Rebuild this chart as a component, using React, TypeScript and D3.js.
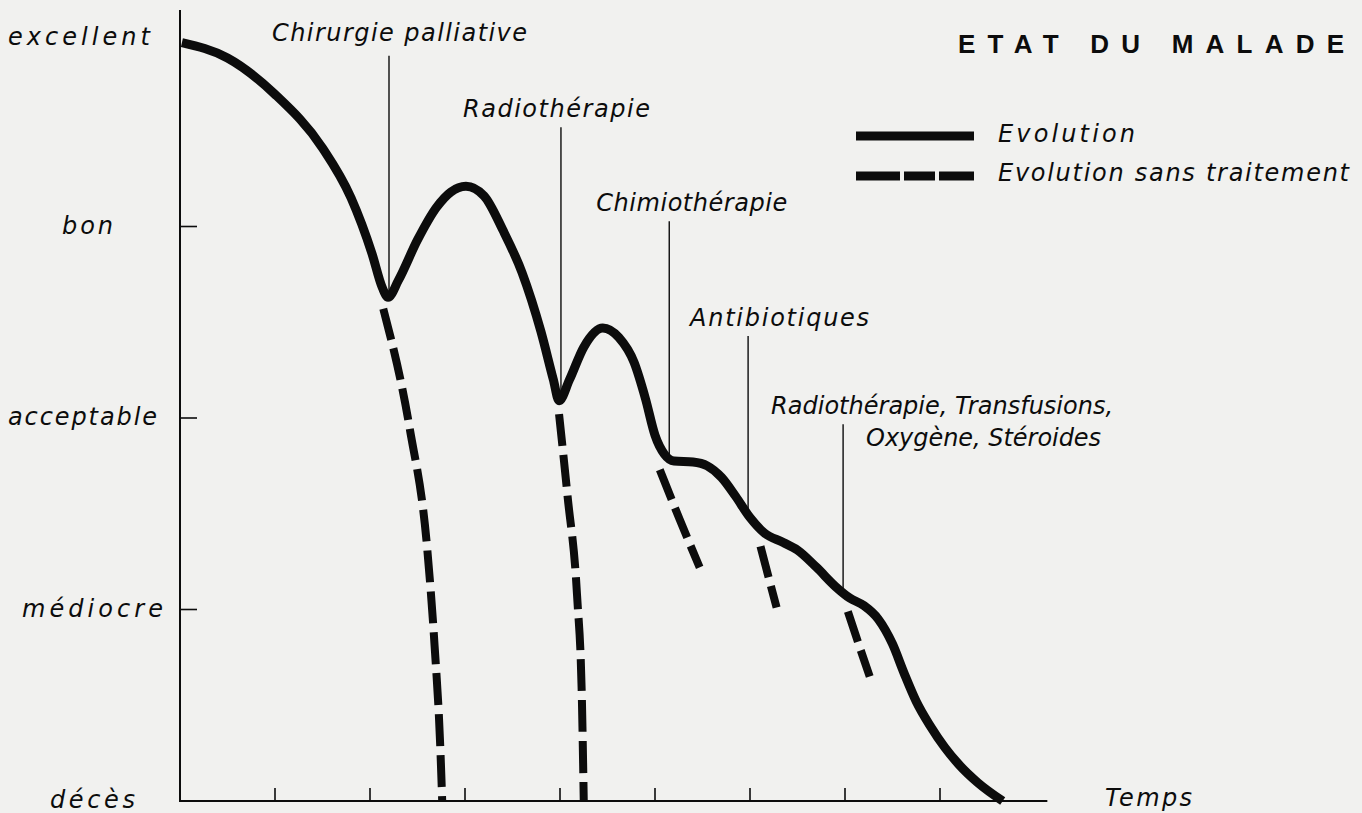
import React from 'react';
import * as d3 from 'd3';

// ---- Data ----
const levelLabels = ['décès', 'médiocre', 'acceptable', 'bon', 'excellent'];
const levelValues = [0, 1, 2, 3, 4];
const xTickValues = [1, 2, 3, 4, 5, 6, 7, 8];

// Evolution (with treatment): [time, state]
const evolution: [number, number][] = [
  [0.02, 3.96], [0.5, 3.88], [1.0, 3.69], [1.5, 3.41], [1.8, 3.15], [2.02, 2.86],
  [2.13, 2.68], [2.19, 2.63], [2.3, 2.72], [2.5, 2.93], [2.7, 3.1], [2.85, 3.18],
  [3.01, 3.21], [3.2, 3.16], [3.4, 2.98], [3.6, 2.76], [3.8, 2.45], [3.93, 2.2],
  [3.99, 2.09], [4.1, 2.2], [4.25, 2.37], [4.45, 2.47], [4.62, 2.42], [4.78, 2.29],
  [4.9, 2.1], [5.0, 1.91], [5.1, 1.81], [5.2, 1.775], [5.4, 1.77], [5.55, 1.75],
  [5.7, 1.69], [5.85, 1.59], [6.0, 1.48], [6.15, 1.4], [6.35, 1.35], [6.5, 1.31],
  [6.7, 1.22], [6.9, 1.12], [7.05, 1.06], [7.2, 1.02], [7.35, 0.95], [7.5, 0.82],
  [7.62, 0.67], [7.75, 0.52], [7.9, 0.39], [8.05, 0.28], [8.2, 0.19], [8.4, 0.095], [8.66, 0.0],
];

// Evolution sans traitement (one branch per treatment)
const sansTraitement1: [number, number][] = [[2.14, 2.57], [2.42, 1.94], [2.6, 1.33], [2.68, 0.81], [2.74, 0.28], [2.76, 0.0]];
const sansTraitement2: [number, number][] = [[3.99, 2.02], [4.08, 1.59], [4.18, 1.07], [4.23, 0.54], [4.25, 0.0]];
const sansTraitement3: [number, number][] = [[5.05, 1.73], [5.26, 1.47], [5.47, 1.22]];
const sansTraitement4: [number, number][] = [[6.11, 1.33], [6.2, 1.16], [6.28, 1.01]];
const sansTraitement5: [number, number][] = [[7.03, 0.99], [7.15, 0.81], [7.26, 0.65]];
const sansTraitement = [sansTraitement1, sansTraitement2, sansTraitement3, sansTraitement4, sansTraitement5];

// Treatments
const treatmentLabels = [
  ['Chirurgie palliative'],
  ['Radiothérapie'],
  ['Chimiothérapie'],
  ['Antibiotiques'],
  ['Radiothérapie, Transfusions,', 'Oxygène, Stéroides'],
];
const treatmentTimes = [2.2, 4.01, 5.15, 5.98, 6.98];
const treatmentLabelLevels = [3.97, 3.57, 3.08, 2.48, 2.02];

const title = 'ETAT DU MALADE';
const legendLabels = ['Evolution', 'Evolution sans traitement'];
const xAxisLabel = 'Temps';

// ---- Layout ----
const W = 1362;
const H = 813;
const FONT = '"DejaVu Sans", sans-serif';
const INK = '#0c0c0c';
const LABEL_SIZE = 24;

const levelLabelLayout = [
  { x: 50, w: 85 },
  { x: 22, w: 141 },
  { x: 8, w: 149 },
  { x: 62, w: 51 },
  { x: 8, w: 142 },
];
const treatmentLabelLayout = [
  { dx: [-117], w: [255] },
  { dx: [-98], w: [187] },
  { dx: [-73], w: [191] },
  { dx: [-58], w: [179] },
  { dx: [-72, 23], w: [342, 235] },
];

function interp(data: [number, number][], t: number) {
  for (let i = 0; i < data.length - 1; i++) {
    const [x0, y0] = data[i];
    const [x1, y1] = data[i + 1];
    if (t >= x0 && t <= x1) return y0 + ((t - x0) / (x1 - x0)) * (y1 - y0);
  }
  return data[data.length - 1][1];
}

export default function App() {
  const x = d3.scaleLinear().domain([0, 9]).range([180, 1035]);
  const y = d3.scaleLinear().domain([0, 4]).range([801, 35]);

  const line = d3
    .line<[number, number]>()
    .x((d) => x(d[0]))
    .y((d) => y(d[1]))
    .curve(d3.curveMonotoneX);

  const xAxisEnd = x(9.13);
  const yAxisTop = 10;

  const textProps = {
    fontFamily: FONT,
    fontStyle: 'oblique' as const,
    fontWeight: 300,
    fontSize: LABEL_SIZE,
    fill: INK,
    lengthAdjust: 'spacing' as const,
  };

  return (
    <svg
      width={W}
      height={H}
      viewBox={`0 0 ${W} ${H}`}
      style={{ position: 'absolute', left: 0, top: 0, background: '#f1f1ef' }}
    >
      <rect x={0} y={0} width={W} height={H} fill="#f1f1ef" />

      {/* axes */}
      <line x1={x(0)} y1={yAxisTop} x2={x(0)} y2={y(0)} stroke={INK} strokeWidth={2} />
      <line x1={x(0) - 1} y1={y(0)} x2={xAxisEnd} y2={y(0)} stroke={INK} strokeWidth={2} />
      {xTickValues.map((t) => (
        <line key={'xt' + t} x1={x(t)} x2={x(t)} y1={y(0)} y2={y(0) - 13} stroke={INK} strokeWidth={1.6} />
      ))}
      {levelValues
        .filter((v) => v > 0 && v < 4)
        .map((v) => (
          <line key={'yt' + v} x1={x(0)} x2={x(0) + 17} y1={y(v)} y2={y(v)} stroke={INK} strokeWidth={1.6} />
        ))}

      {/* level labels */}
      {levelValues.map((v, i) => (
        <text
          key={'yl' + v}
          {...textProps}
          x={levelLabelLayout[i].x}
          y={y(v) + (v === 4 ? 10 : 7)}
          textLength={levelLabelLayout[i].w}
        >
          {levelLabels[i]}
        </text>
      ))}

      <text {...textProps} x={1105} y={y(0) + 5} textLength={87}>
        {xAxisLabel}
      </text>

      {/* treatment annotation lines + labels */}
      {treatmentTimes.map((t, i) => {
        const lx = x(t);
        const base = y(treatmentLabelLevels[i]);
        const top = base + (i === 0 ? 15 : 10);
        const bottom = y(interp(evolution, t));
        return (
          <g key={'tr' + i}>
            <line x1={lx} x2={lx} y1={top} y2={bottom} stroke={INK} strokeWidth={1.4} />
            {treatmentLabels[i].map((s, j) => (
              <text
                key={j}
                {...textProps}
                x={lx + treatmentLabelLayout[i].dx[j]}
                y={base + j * 32}
                textLength={treatmentLabelLayout[i].w[j]}
              >
                {s}
              </text>
            ))}
          </g>
        );
      })}

      {/* sans traitement */}
      {sansTraitement.map((d, i) => (
        <path key={'st' + i} d={line(d) || ''} fill="none" stroke={INK} strokeWidth={8} strokeDasharray="32 9" />
      ))}

      {/* evolution */}
      <path d={line(evolution) || ''} fill="none" stroke={INK} strokeWidth={9} strokeLinejoin="round" />

      {/* title */}
      <text
        x={958}
        y={53}
        fontFamily='"Liberation Sans", Arial, sans-serif'
        fontWeight="bold"
        fontSize={26}
        fill={INK}
        textLength={386}
        lengthAdjust="spacing"
      >
        {title}
      </text>

      {/* legend */}
      <line x1={856} x2={974} y1={136} y2={136} stroke={INK} strokeWidth={9} />
      <line x1={856} x2={974} y1={176} y2={176} stroke={INK} strokeWidth={9} strokeDasharray="44 4 31 4 35 4" />
      <text {...textProps} x={998} y={142} textLength={137}>
        {legendLabels[0]}
      </text>
      <text {...textProps} x={998} y={181} textLength={351}>
        {legendLabels[1]}
      </text>
    </svg>
  );
}
